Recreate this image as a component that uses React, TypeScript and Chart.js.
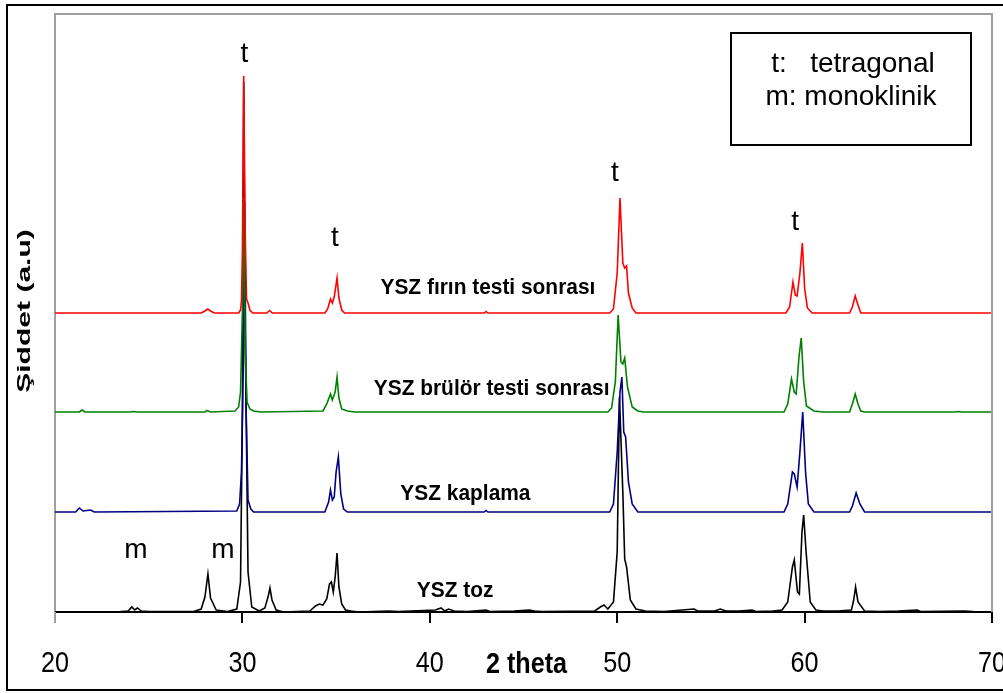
import React, { useEffect, useRef } from "react";
import { Chart, registerables } from "chart.js";

Chart.register(...registerables);

// ---- data ----
const seriesNames = ["YSZ fırın testi sonrası", "YSZ brülör testi sonrası", "YSZ kaplama", "YSZ toz"];
const seriesColors = ["#ff0000", "#008000", "#000080", "#000000"];
const seriesOffsets = [299, 200, 100, 0];

// [2theta, intensity above own baseline]
const firinData: [number, number][] = [
  [20, 0], [27.8, 0], [28.0, 2], [28.15, 4], [28.3, 2], [28.5, 0], [29.8, 0], [29.9, 3], [29.95, 12],
  [30.0, 60], [30.07, 237], [30.15, 80], [30.22, 14], [30.3, 10], [30.4, 3], [30.55, 0], [31.3, 0],
  [31.45, 2.5], [31.6, 0], [34.4, 0], [34.55, 4], [34.7, 14], [34.8, 10], [34.9, 16], [35.05, 35],
  [35.15, 15], [35.3, 3], [35.45, 0], [42.9, 0], [43.0, 1.5], [43.1, 0], [49.6, 0], [49.8, 4],
  [50.0, 40], [50.15, 115], [50.3, 50], [50.4, 45], [50.5, 47], [50.6, 20], [50.8, 5], [51.0, 0],
  [59.0, 0], [59.2, 6], [59.38, 31], [59.5, 18], [59.6, 17], [59.75, 40], [59.88, 70], [60.0, 25],
  [60.15, 5], [60.4, 0], [62.4, 0], [62.55, 6], [62.7, 17], [62.85, 8], [63.0, 0], [70, 0],
];

const brulorData: [number, number][] = [
  [20, 0], [21.3, 0], [21.45, 2], [21.6, 0], [24.0, 0], [24.2, 0.5], [24.4, 0], [28.0, 0], [28.1, 1.5],
  [28.3, 0], [29.6, 1], [29.8, 5], [29.9, 20], [30.0, 100], [30.07, 215], [30.15, 60], [30.25, 10],
  [30.4, 3], [30.6, 1], [31.0, 0], [34.3, 1], [34.5, 8], [34.7, 18], [34.8, 12], [34.95, 20],
  [35.05, 35], [35.15, 14], [35.3, 3], [35.6, 1], [36.0, 0], [49.5, 0], [49.7, 4], [49.9, 30],
  [50.05, 97], [50.2, 50], [50.3, 48], [50.4, 54], [50.55, 25], [50.8, 5], [51.1, 1], [51.4, 0],
  [58.9, 0], [59.1, 8], [59.3, 33], [59.45, 20], [59.55, 18], [59.7, 55], [59.82, 74], [59.95, 30],
  [60.1, 6], [60.5, 1], [61.0, 0], [62.4, 0], [62.55, 8], [62.7, 18], [62.85, 8], [63.0, 1],
  [63.2, 0], [68.0, 0], [68.2, 0.5], [68.4, 0], [70, 0],
];

const kaplamaData: [number, number][] = [
  [20, 0], [21.1, 0], [21.3, 4], [21.5, 1], [21.9, 2], [22.1, 0], [29.7, 1], [29.85, 8], [29.95, 40],
  [30.05, 150], [30.12, 310], [30.2, 100], [30.3, 12], [30.45, 3], [30.6, 0], [34.4, 0], [34.6, 10],
  [34.7, 22], [34.8, 12], [34.9, 15], [35.0, 40], [35.12, 55], [35.25, 18], [35.4, 3], [35.6, 0],
  [42.9, 0], [43.0, 1.5], [43.1, 0], [49.6, 0], [49.8, 8], [50.0, 60], [50.15, 120], [50.25, 135],
  [50.35, 80], [50.45, 75], [50.6, 30], [50.8, 8], [51.1, 0], [58.9, 0], [59.1, 8], [59.35, 40],
  [59.45, 38], [59.6, 25], [59.75, 60], [59.9, 100], [60.05, 40], [60.2, 8], [60.5, 0], [62.4, 0],
  [62.55, 6], [62.75, 19], [62.95, 8], [63.2, 0], [70, 0],
];

const tozData: [number, number][] = [
  [20, 0], [23.5, 0.5], [23.9, 1], [24.1, 5], [24.25, 2], [24.4, 4], [24.6, 1], [25.0, 0.5],
  [27.4, 0.5], [27.8, 3], [28.0, 15], [28.16, 38], [28.3, 14], [28.6, 2], [29.2, 0.5], [29.7, 3],
  [29.9, 30], [30.0, 200], [30.07, 530], [30.15, 280], [30.3, 40], [30.5, 5], [30.9, 1], [31.2, 4],
  [31.38, 16], [31.47, 24], [31.58, 12], [31.8, 2], [32.2, 0], [33.6, 1], [33.9, 6], [34.1, 8],
  [34.3, 7], [34.5, 13], [34.65, 28], [34.75, 30], [34.85, 20], [34.95, 35], [35.05, 59], [35.15, 25],
  [35.3, 8], [35.5, 2], [35.8, 1], [36.2, 0], [37.8, 1], [38.3, 0.5], [39.0, 1], [40.3, 2], [40.6, 4],
  [40.8, 1], [41.0, 3], [41.3, 1], [42.0, 0.5], [43.0, 2], [43.2, 0.5], [44.5, 1], [45.3, 2],
  [45.6, 1], [46.0, 0.5], [48.8, 1], [49.1, 5], [49.3, 7], [49.5, 3], [49.8, 10], [50.0, 60],
  [50.12, 215], [50.3, 120], [50.4, 53], [50.5, 45], [50.7, 12], [51.0, 3], [51.5, 1], [52.5, 0.5],
  [54.1, 3], [54.3, 1], [55.2, 1], [55.5, 3], [55.8, 1], [56.5, 1], [57.2, 2], [57.4, 0.5], [58.3, 1],
  [58.8, 2], [59.1, 10], [59.35, 45], [59.45, 52], [59.62, 20], [59.72, 18], [59.86, 80], [59.95, 97],
  [60.08, 60], [60.3, 10], [60.6, 2], [61.0, 1], [61.8, 1], [62.5, 2], [62.62, 12], [62.72, 25],
  [62.85, 10], [63.2, 1], [64.0, 0.5], [65.0, 1], [66.0, 2], [66.2, 0.5], [68.5, 1], [69.0, 0.5], [70, 0],
];

const seriesData = [firinData, brulorData, kaplamaData, tozData];

const xTicks = [20, 30, 40, 50, 60, 70];
const xMin = 20;
const xMax = 70;
const yMin = 0;
const yMax = 598;

const xTitle = "2 theta";
const yTitle = "Şiddet (a.u)";
const legendLines = ["t:   tetragonal", "m: monoklinik"];

// phase markers: [text, 2theta, y]
const phaseLabels: [string, number, number][] = [
  ["t", 30.1, 550],
  ["t", 34.94, 366],
  ["t", 49.88, 431],
  ["t", 59.49, 382],
  ["m", 24.32, 54],
  ["m", 28.96, 54],
];
// series name anchors: [2theta, y]
const seriesLabelAnchors: [number, number][] = [
  [43.1, 318],
  [43.3, 217],
  [41.9, 112],
  [41.35, 15],
];

const SANS = "'Liberation Sans', Arial, sans-serif";

function drawScaledText(ctx: any, text: string, x: number, y: number, sx: number) {
  ctx.save();
  ctx.translate(x, y);
  ctx.scale(sx, 1);
  ctx.fillText(text, 0, 0);
  ctx.restore();
}

const decorPlugin = {
  id: "decor",
  beforeDraw(chart: any) {
    const ctx = chart.ctx;
    ctx.save();
    ctx.fillStyle = "#ffffff";
    ctx.fillRect(0, 0, chart.width, chart.height);
    ctx.strokeStyle = "#000000";
    ctx.lineWidth = 2;
    ctx.strokeRect(7, 5, 1010, 685);
    ctx.restore();
  },
  afterDraw(chart: any) {
    const ctx = chart.ctx;
    const a = chart.chartArea;
    const xs = chart.scales.x;
    const ys = chart.scales.y;
    ctx.save();
    // plot frame (top, right)
    ctx.strokeStyle = "#a0a0a0";
    ctx.lineWidth = 2;
    ctx.beginPath();
    ctx.moveTo(a.left, a.top);
    ctx.lineTo(a.right, a.top);
    ctx.lineTo(a.right, a.bottom);
    ctx.stroke();

    // legend box
    const bw = 240, bh = 112;
    const bx = a.right - 21 - bw;
    const by = a.top + 19;
    ctx.strokeStyle = "#000000";
    ctx.lineWidth = 2;
    ctx.strokeRect(bx, by, bw, bh);
    ctx.fillStyle = "#000000";
    ctx.font = `28px ${SANS}`;
    ctx.textAlign = "center";
    ctx.textBaseline = "alphabetic";
    ctx.fillText(legendLines[0], bx + bw / 2 + 2, by + 39);
    ctx.fillText(legendLines[1], bx + bw / 2, by + 72);

    // phase markers
    ctx.font = `28px ${SANS}`;
    phaseLabels.forEach(([t, px, py]) => {
      ctx.fillText(t, xs.getPixelForValue(px), ys.getPixelForValue(py));
    });

    // series names
    ctx.font = `bold 22px ${SANS}`;
    seriesLabelAnchors.forEach(([px, py], i) => {
      drawScaledText(ctx, seriesNames[i], xs.getPixelForValue(px), ys.getPixelForValue(py), 0.95);
    });

    // x tick labels (condensed)
    ctx.font = `30px ${SANS}`;
    xTicks.forEach((v) => {
      drawScaledText(ctx, String(v), xs.getPixelForValue(v), a.bottom + 60, 0.84);
    });

    // x title (sits in the tick-label row)
    ctx.font = `bold 30px ${SANS}`;
    drawScaledText(ctx, xTitle, (a.left + a.right) / 2 + 3, a.bottom + 61, 0.84);

    // y title (stretched, rotated)
    ctx.translate(25, 311);
    ctx.rotate(-Math.PI / 2);
    ctx.scale(1.67, 1);
    ctx.font = `bold 18px ${SANS}`;
    ctx.textBaseline = "middle";
    ctx.fillText(yTitle, 0, 0);
    ctx.restore();
  },
};

export default function App() {
  const ref = useRef<HTMLCanvasElement | null>(null);

  useEffect(() => {
    if (!ref.current) return;
    const datasets = seriesData.map((d, i) => ({
      label: seriesNames[i],
      data: d.map(([x, v]) => ({ x, y: v + seriesOffsets[i] })),
      borderColor: seriesColors[i],
      backgroundColor: seriesColors[i],
      borderWidth: 1.6,
      pointRadius: 0,
      tension: 0,
      fill: false,
    }));
    const chart = new Chart(ref.current, {
      type: "line",
      data: { datasets },
      plugins: [decorPlugin],
      options: {
        responsive: false,
        animation: false,
        events: [],
        layout: { padding: { left: 0, right: 11, top: 14, bottom: 0 } },
        plugins: { legend: { display: false }, tooltip: { enabled: false }, title: { display: false } },
        scales: {
          x: {
            type: "linear",
            min: xMin,
            max: xMax,
            afterBuildTicks: (s: any) => {
              s.ticks = xTicks.map((v) => ({ value: v }));
            },
            afterFit: (s: any) => {
              s.height = 81;
              s.paddingLeft = 0;
              s.paddingRight = 0;
            },
            ticks: { display: false },
            grid: {
              drawOnChartArea: false,
              drawTicks: true,
              tickLength: 11,
              lineWidth: 2,
              color: (c: any) => (c.index === 0 ? "#a0a0a0" : "#000000"),
            },
            border: { display: true, color: "#000000", width: 2 },
          },
          y: {
            type: "linear",
            min: yMin,
            max: yMax,
            ticks: { display: false },
            grid: { display: false, drawTicks: false },
            border: { display: true, color: "#a0a0a0", width: 2 },
            afterFit: (s: any) => {
              s.width = 55;
              s.paddingTop = 0;
              s.paddingBottom = 0;
            },
          },
        },
      },
    });
    return () => chart.destroy();
  }, []);

  return (
    <div style={{ position: "absolute", left: 0, top: 0, width: 1003, height: 693, background: "#fff" }}>
      <canvas ref={ref} width={1003} height={693} style={{ display: "block", width: 1003, height: 693 }} />
    </div>
  );
}
